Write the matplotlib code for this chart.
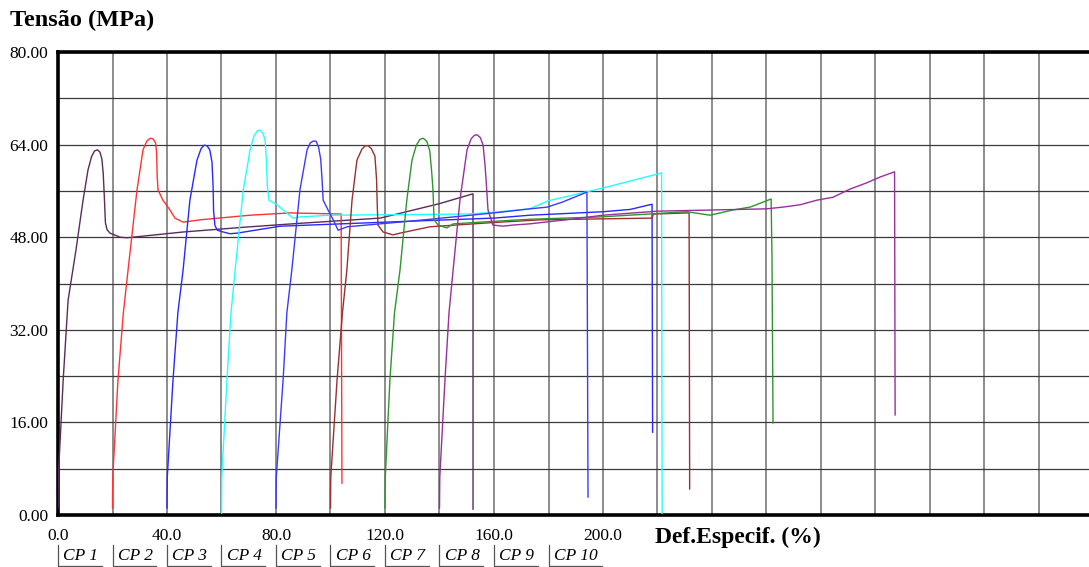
import numpy as np
import matplotlib
matplotlib.use('Agg')
import matplotlib.pyplot as plt

plt.rcParams['font.family'] = ['Liberation Serif', 'DejaVu Serif']

# curves (strain %, stress MPa)
cp1_x = [0, 0.1, 1.9, 3.7, 6.6, 9.2, 11.0, 12.3, 13.4, 14.5, 15.4, 16.1, 16.6, 17.0, 17.4, 18.0, 19.1, 22.8, 25.3, 45.9, 70.5, 88.8, 118.2, 124.4, 140.0, 152.3, 152.3]
cp1_y = [1.2, 6.5, 23.3, 37.1, 45.8, 54.4, 59.6, 61.9, 62.9, 63.1, 62.7, 61.5, 59.0, 55.0, 50.5, 49.3, 48.7, 48.0, 47.9, 48.9, 49.8, 50.4, 51.3, 52.0, 53.8, 55.5, 1.0]

cp2_x = [20, 20.1, 22.0, 24.0, 25.7, 29.0, 31.2, 32.6, 33.8, 34.9, 35.8, 36.2, 36.4, 36.7, 38.5, 41.1, 42.9, 45.9, 52.1, 70.5, 85.1, 103.9, 104.2]
cp2_y = [1.2, 6.5, 23.3, 35.0, 42.3, 56.2, 63.1, 64.6, 65.1, 65.0, 64.3, 62.5, 58.5, 56.2, 54.4, 52.7, 51.3, 50.6, 51.0, 51.8, 52.2, 52.0, 5.5]

cp3_x = [40, 40.1, 42.2, 44.0, 45.9, 48.4, 51.0, 52.5, 53.6, 54.7, 55.7, 56.5, 56.9, 57.1, 57.6, 58.5, 60.6, 63.1, 65.7, 81.5, 120, 160, 173.2, 200, 210, 218, 218.2]
cp3_y = [1.2, 6.5, 23.3, 35.0, 42.3, 54.4, 61.3, 63.3, 63.9, 63.8, 63.1, 61.0, 57.0, 52.5, 50.0, 49.2, 48.9, 48.6, 48.7, 49.9, 50.6, 51.3, 51.8, 52.4, 52.8, 53.7, 14.3]

cp4_x = [60, 60.1, 62.0, 63.5, 65.0, 68.0, 70.5, 72.0, 73.2, 74.2, 75.2, 76.0, 76.5, 76.8, 77.4, 80.4, 82.6, 86.2, 88.8, 99.8, 150, 160, 173, 180, 200, 221.5, 221.7]
cp4_y = [0.3, 6.6, 23.3, 35.0, 42.3, 56.2, 63.1, 65.6, 66.4, 66.5, 65.9, 64.8, 61.0, 57.0, 54.4, 53.6, 52.7, 51.3, 51.5, 51.8, 52.0, 52.3, 52.9, 54.3, 56.5, 59.1, 0.3]

cp5_x = [80, 80.1, 82.6, 84.0, 85.8, 88.8, 91.4, 92.6, 93.6, 94.7, 95.6, 96.4, 96.9, 97.3, 99.1, 101.0, 102.8, 106.1, 130, 160, 173.2, 179.5, 185.3, 194.1, 194.5]
cp5_y = [1.2, 6.5, 23.3, 35.0, 42.3, 56.2, 63.1, 64.3, 64.6, 64.6, 63.6, 61.5, 58.0, 54.4, 52.7, 51.0, 49.2, 49.8, 50.8, 52.2, 52.9, 53.2, 54.1, 55.8, 3.1]

cp6_x = [100, 100.1, 102.4, 104.4, 106.0, 107.9, 109.7, 111.5, 112.8, 113.8, 115.0, 116.3, 116.9, 117.1, 117.4, 119.3, 122.9, 125.5, 136.5, 158.6, 176.9, 218, 218.5, 231.6, 231.8]
cp6_y = [1.2, 6.5, 23.3, 35.0, 42.3, 54.4, 61.3, 63.2, 63.8, 63.8, 63.3, 62.0, 58.0, 54.4, 50.1, 48.9, 48.4, 48.7, 49.8, 50.5, 51.0, 51.3, 52.0, 52.2, 4.5]

cp7_x = [120, 120.1, 121.8, 123.5, 125.5, 128.0, 129.9, 131.5, 132.8, 134.0, 135.3, 136.4, 137.1, 137.6, 138.0, 139.5, 142.7, 145.0, 154.9, 173, 198.9, 230.8, 239.3, 247.7, 254.0, 261.7, 262.0, 262.4]
cp7_y = [1.2, 6.5, 23.3, 35.0, 42.3, 54.4, 61.3, 63.9, 64.9, 65.1, 64.6, 63.0, 59.5, 56.2, 51.0, 50.1, 49.6, 50.3, 50.6, 51.1, 51.5, 52.4, 51.8, 52.7, 53.2, 54.6, 45.0, 15.9]

cp8_x = [140, 140.1, 142.0, 143.5, 145.0, 147.5, 150.1, 151.6, 152.8, 153.8, 155.0, 156.0, 156.7, 157.1, 157.8, 159.6, 163.3, 167, 173, 190, 200, 220, 260, 266, 272.3, 278.5, 284.4, 290.6, 296.8, 301.7, 307.0, 307.2]
cp8_y = [1.2, 6.5, 23.3, 35.0, 42.3, 54.4, 63.1, 65.0, 65.6, 65.7, 65.2, 63.9, 60.5, 57.9, 52.7, 50.1, 49.9, 50.1, 50.3, 51.2, 51.8, 52.5, 52.9, 53.2, 53.6, 54.4, 54.9, 56.3, 57.4, 58.4, 59.3, 17.3]

colors = ['#5c2a5c', '#ff3333', '#2828ff', '#22ffff', '#3a3aff', '#9a3030', '#2e952e', '#9a2e9a']
labels = ['CP 1', 'CP 2', 'CP 3', 'CP 4', 'CP 5', 'CP 6', 'CP 7', 'CP 8', 'CP 9', 'CP 10']
x_labels = ['0.0', '40.0', '80.0', '120.0', '160.0', '200.0']
y_labels = ['0.00', '16.00', '32.00', '48.00', '64.00', '80.00']

curves = [(cp1_x, cp1_y), (cp2_x, cp2_y), (cp3_x, cp3_y), (cp4_x, cp4_y),
          (cp5_x, cp5_y), (cp6_x, cp6_y), (cp7_x, cp7_y), (cp8_x, cp8_y)]

fig = plt.figure(figsize=(10.89, 5.67), dpi=100)
ax = fig.add_axes([58/1089, 1 - 515/567, (1089 - 58)/1089, 463/567])

for (x, y), c in zip(curves, colors):
    ax.plot(x, y, color=c, lw=1.0, zorder=3)

ax.set_xlim(0, (1089 - 58) / 54.5 * 20)
ax.set_ylim(0, 80)

xt = np.arange(0, 380, 20)
ax.set_xticks(xt)
ax.set_xticklabels([x_labels[i // 2] if i % 2 == 0 and i // 2 < len(x_labels) else '' for i in range(len(xt))])
yt = np.arange(0, 81, 8)
ax.set_yticks(yt)
ax.set_yticklabels([y_labels[i // 2] if i % 2 == 0 else '' for i in range(len(yt))])
ax.tick_params(axis='x', length=0, pad=9, labelsize=12.5)
ax.tick_params(axis='y', length=0, pad=7, labelsize=12.5)

ax.xaxis.grid(True, color='#8c8c8c', lw=1.4)
ax.yaxis.grid(True, color='#3a3a3a', lw=0.9)
ax.set_axisbelow(True)

for s in ['left', 'bottom', 'top']:
    ax.spines[s].set_linewidth(2.6)
    ax.spines[s].set_color('black')
ax.spines['right'].set_visible(False)

fig.text(10/1089, 1 - 20/567, 'Tensão (MPa)', fontsize=17.5, fontweight='bold', va='center', ha='left')
fig.text(655/1089, 1 - 537/567, 'Def.Especif. (%)', fontsize=17, fontweight='bold', va='center', ha='left')

# tab-style legend under the x axis
tr = ax.get_xaxis_transform()
for i, lab in enumerate(labels):
    x0 = i * 20
    w = 19.5 if len(lab) > 4 else 16
    ax.plot([x0, x0, x0 + w], [-0.064, -0.110, -0.110], color='#555555', lw=0.9,
            transform=tr, clip_on=False)
    ax.text(x0 + 2.0, -0.088, lab, transform=tr, fontsize=12.5, style='italic',
            va='center', ha='left')

fig.savefig('out.png', dpi=100)
